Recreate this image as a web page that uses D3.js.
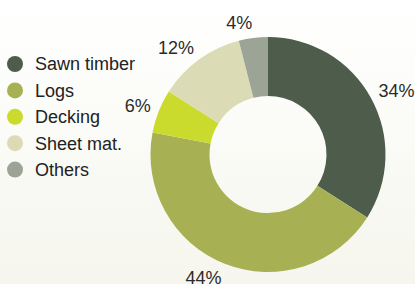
<!DOCTYPE html>
<html>
<head>
    <meta charset="utf-8">
    <title>Timber products share</title>
    <style>
        body { margin: 0; padding: 0; }
        svg { display: block; font-family: "Liberation Sans", Arial, sans-serif; }
    </style>
</head>
<script src="https://d3js.org/d3.v7.js"></script>
<body>
    <div id="chart"></div>
</body>
<script>

var categories = ["Sawn timber", "Logs", "Decking", "Sheet mat.", "Others"];
var shares = [34, 44, 6, 12, 4];
var colours = ["#4e5d4b", "#a7b153", "#cadb2d", "#dbdcb5", "#9ca595"];

var width = 415, height = 284;

var svg = d3.select('#chart').append('svg')
    .attr('width', width)
    .attr('height', height);

// soft background gradient
var grad = svg.append('defs').append('linearGradient')
    .attr('id', 'bg')
    .attr('x1', 0).attr('y1', 0).attr('x2', 0).attr('y2', 1);
grad.append('stop').attr('offset', '0%').attr('stop-color', '#ffffff');
grad.append('stop').attr('offset', '100%').attr('stop-color', '#f6f6ee');

svg.append('rect')
    .attr('width', width)
    .attr('height', height)
    .attr('fill', 'url(#bg)');

var data = categories.map(function(c, i) {
    return { name: c, value: shares[i] };
});

var color = d3.scaleOrdinal().domain(categories).range(colours);

var pie = d3.pie()
    .sort(null)
    .value(d => d.value);

var arc = d3.arc()
    .innerRadius(58.5)
    .outerRadius(117.5);

// labels: x from one ring (anchored by side), y from a slightly wider one
var labelArcX = d3.arc().innerRadius(126).outerRadius(126);
var labelArcY = d3.arc().innerRadius(132.5).outerRadius(132.5);

var g = svg.append('g')
    .attr('transform', 'translate(268,154.5)');

var arcs = pie(data);

g.selectAll('path')
    .data(arcs)
    .enter().append('path')
    .attr('d', arc)
    .attr('fill', d => color(d.data.name));

g.selectAll('text')
    .data(arcs)
    .enter().append('text')
    .attr('x', d => labelArcX.centroid(d)[0])
    .attr('y', d => labelArcY.centroid(d)[1])
    .attr('text-anchor', d => ((d.startAngle + d.endAngle) / 2 < Math.PI ? 'start' : 'end'))
    .attr('dy', '0.35em')
    .attr('font-size', 18)
    .attr('fill', '#2b2b2b')
    .text(d => d.data.value + '%');

// legend
var legend = svg.append('g')
    .attr('transform', 'translate(15,64)');

var item = legend.selectAll('g')
    .data(categories)
    .enter().append('g')
    .attr('transform', (d, i) => 'translate(0,' + (i * 26.4) + ')');

item.append('circle')
    .attr('r', 8)
    .attr('fill', d => color(d));

item.append('text')
    .attr('x', 20)
    .attr('dy', '0.35em')
    .attr('font-size', 18)
    .attr('fill', '#222')
    .text(d => d);

</script>
</html>
